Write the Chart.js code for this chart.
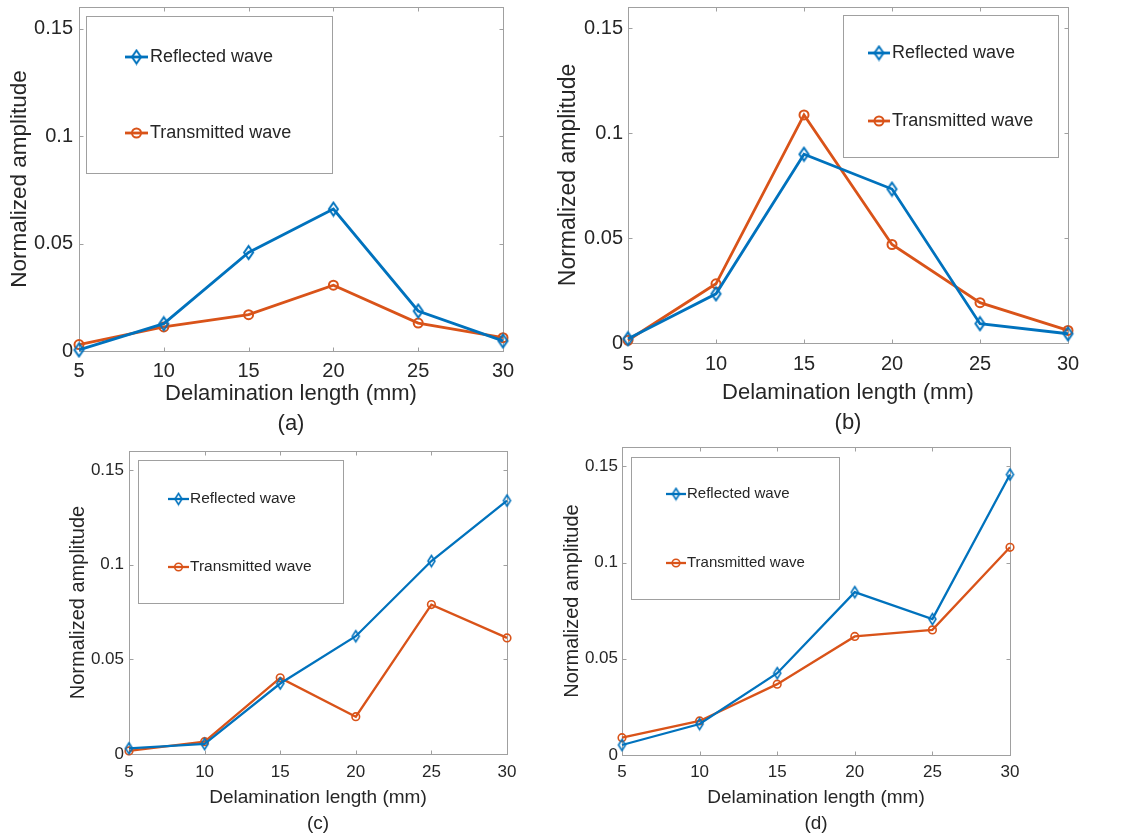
<!DOCTYPE html>
<html>
<head>
<meta charset="utf-8">
<script src="https://cdn.jsdelivr.net/npm/chart.js@4.4.1/dist/chart.umd.min.js"></script>
<style>
  body { margin: 0; background: #fff; }
  #wrap { position: relative; width: 1138px; height: 837px; }
  #wrap canvas { position: absolute; left: 0; top: 0; }
</style>
</head>
<body>
<div id="wrap">
  <canvas id="chartA" width="1138" height="837"></canvas>
  <canvas id="chartB" width="1138" height="837"></canvas>
  <canvas id="chartC" width="1138" height="837"></canvas>
  <canvas id="chartD" width="1138" height="837"></canvas>
</div>
<script>
// delamination lengths (mm) and axis ticks
const lengths = [5, 10, 15, 20, 25, 30];
const yTicks = [0, 0.05, 0.1, 0.15];
const seriesNames = ['Reflected wave', 'Transmitted wave'];
const xTitle = 'Delamination length (mm)';
const yTitle = 'Normalized amplitude';

// normalized amplitudes per case
const reflectedA = [0.0005, 0.0127, 0.0458, 0.0660, 0.0186, 0.0047];
const transmittedA = [0.0030, 0.0112, 0.0169, 0.0306, 0.0130, 0.0062];

const reflectedB = [0.0020, 0.0234, 0.0899, 0.0733, 0.0092, 0.0044];
const transmittedB = [0.0013, 0.0282, 0.1086, 0.0469, 0.0192, 0.0060];

const reflectedC = [0.0030, 0.0053, 0.0372, 0.0622, 0.1019, 0.1338];
const transmittedC = [0.0016, 0.0065, 0.0402, 0.0197, 0.0789, 0.0613];

const reflectedD = [0.0052, 0.0161, 0.0425, 0.0846, 0.0706, 0.1457];
const transmittedD = [0.0090, 0.0177, 0.0368, 0.0616, 0.0650, 0.1079];

const BLUE = '#0072BD';
const ORANGE = '#D95319';
const INK = '#262626';
const FRAME = '#a0a0a0';
const FAMILY = "'Liberation Sans', Arial, Helvetica, sans-serif";

// hollow, slightly tall diamond like the MATLAB 'd' marker
function diamond(w, h, color, lw) {
  const c = document.createElement('canvas');
  c.width = Math.ceil(w + lw * 2);
  c.height = Math.ceil(h + lw * 2);
  const g = c.getContext('2d');
  const cx = c.width / 2, cy = c.height / 2;
  g.strokeStyle = color;
  g.lineWidth = lw;
  g.beginPath();
  g.moveTo(cx, cy - h / 2);
  g.lineTo(cx + w / 2, cy);
  g.lineTo(cx, cy + h / 2);
  g.lineTo(cx - w / 2, cy);
  g.closePath();
  g.stroke();
  return c;
}

// axes box with inward tick marks on all four sides
const axesFrame = {
  id: 'axesFrame',
  beforeDatasetsDraw(chart) {
    const { ctx, chartArea: a, scales: { x, y } } = chart;
    const L = Math.round(a.left) + 0.5, R = Math.round(a.right) + 0.5;
    const T = Math.round(a.top) + 0.5, B = Math.round(a.bottom) + 0.5;
    ctx.save();
    ctx.strokeStyle = FRAME;
    ctx.lineWidth = 1;
    ctx.strokeRect(L, T, R - L, B - T);
    ctx.beginPath();
    x.ticks.forEach(t => {
      const px = Math.round(x.getPixelForValue(t.value)) + 0.5;
      ctx.moveTo(px, B); ctx.lineTo(px, B - 4);
      ctx.moveTo(px, T); ctx.lineTo(px, T + 4);
    });
    y.ticks.forEach(t => {
      const py = Math.round(y.getPixelForValue(t.value)) + 0.5;
      ctx.moveTo(L, py); ctx.lineTo(L + 4, py);
      ctx.moveTo(R, py); ctx.lineTo(R - 4, py);
    });
    ctx.stroke();
    ctx.restore();
  }
};

// boxed legend sitting inside the axes
const boxLegend = {
  id: 'boxLegend',
  afterDraw(chart, args, o) {
    const ctx = chart.ctx;
    ctx.save();
    ctx.fillStyle = '#fff';
    ctx.fillRect(o.x, o.y, o.w, o.h);
    ctx.strokeStyle = FRAME;
    ctx.lineWidth = 1;
    ctx.strokeRect(o.x + 0.5, o.y + 0.5, o.w, o.h);
    chart.data.datasets.forEach((ds, i) => {
      const y = o.rows[i];
      ctx.strokeStyle = ds.borderColor;
      ctx.lineWidth = ds.borderWidth;
      ctx.beginPath();
      ctx.moveTo(o.lineX0, y);
      ctx.lineTo(o.lineX1, y);
      ctx.stroke();
      ctx.fillStyle = 'rgba(0,0,0,0)';
      ctx.lineWidth = ds.pointBorderWidth;
      Chart.helpers.drawPoint(ctx, {
        pointStyle: ds.pointStyle, radius: ds.pointRadius,
        borderWidth: ds.pointBorderWidth, rotation: 0
      }, (o.lineX0 + o.lineX1) / 2, y);
      ctx.fillStyle = INK;
      ctx.font = o.fontSize + 'px ' + FAMILY;
      ctx.textBaseline = 'middle';
      ctx.textAlign = 'left';
      ctx.fillText(ds.label, o.textX, y);
    });
    ctx.restore();
  }
};

function makePanel(id, reflected, transmitted, p) {
  const yw = p.area.left - p.yTitleX + p.label * 0.6;
  const xh = p.xBottom - p.area.bottom;
  const toPts = vals => vals.map((v, i) => ({ x: lengths[i], y: v }));

  new Chart(document.getElementById(id), {
    type: 'line',
    data: {
      datasets: [{
        label: seriesNames[0],
        data: toPts(reflected),
        borderColor: BLUE,
        borderWidth: p.lw,
        pointStyle: diamond(p.dw, p.dh, BLUE, p.mw),
        pointRadius: p.r,
        pointBorderWidth: p.mw,
        pointBorderColor: BLUE,
        pointBackgroundColor: 'rgba(0,0,0,0)',
        tension: 0,
        clip: false
      }, {
        label: seriesNames[1],
        data: toPts(transmitted),
        borderColor: ORANGE,
        borderWidth: p.lw,
        pointStyle: 'circle',
        pointRadius: p.r,
        pointBorderWidth: p.mw,
        pointBorderColor: ORANGE,
        pointBackgroundColor: 'rgba(0,0,0,0)',
        tension: 0,
        clip: false
      }]
    },
    options: {
      responsive: false,
      animation: false,
      events: [],
      layout: {
        padding: {
          left: p.area.left - yw,
          top: p.area.top,
          right: 1138 - p.area.right,
          bottom: 837 - p.xBottom
        }
      },
      plugins: {
        legend: { display: false },
        tooltip: { enabled: false },
        boxLegend: p.legend
      },
      scales: {
        x: {
          type: 'linear',
          min: 5,
          max: 30,
          afterBuildTicks: s => { s.ticks = lengths.map(v => ({ value: v })); },
          afterFit: s => {
            s.height = xh;
            s.paddingLeft = 0;
            s.paddingRight = 0;
          },
          grid: { display: false, drawTicks: false },
          border: { display: false },
          ticks: {
            padding: p.xPad,
            color: INK,
            font: { family: FAMILY, size: p.tick },
            callback: v => String(v)
          },
          title: {
            display: true,
            text: [xTitle, p.caption],
            color: INK,
            padding: 0,
            font: { family: FAMILY, size: p.label, lineHeight: 1.36 }
          }
        },
        y: {
          type: 'linear',
          min: 0,
          max: 0.16,
          afterBuildTicks: s => { s.ticks = yTicks.map(v => ({ value: v })); },
          afterFit: s => {
            s.width = yw;
            s.paddingTop = 0;
            s.paddingBottom = 0;
          },
          grid: { display: false, drawTicks: false },
          border: { display: false },
          ticks: {
            padding: p.yPad,
            color: INK,
            font: { family: FAMILY, size: p.tick },
            callback: v => String(v)
          },
          title: {
            display: true,
            text: yTitle,
            color: INK,
            padding: 0,
            font: { family: FAMILY, size: p.yLabel, lineHeight: 1.2 }
          }
        }
      }
    },
    plugins: [axesFrame, boxLegend]
  });
}

makePanel('chartA', reflectedA, transmittedA, {
  area: { left: 79, right: 503, top: 7, bottom: 351 },
  yTitleX: 19, xBottom: 439, caption: '(a)',
  tick: 20, label: 22, yLabel: 22.5, xPad: 8, yPad: 6,
  lw: 2.8, mw: 2, r: 4.5, dw: 9, dh: 13,
  legend: { x: 86, y: 16, w: 246, h: 157, rows: [57, 133], lineX0: 125, lineX1: 148, textX: 150, fontSize: 18 }
});

makePanel('chartB', reflectedB, transmittedB, {
  area: { left: 628, right: 1068, top: 7, bottom: 343 },
  yTitleX: 568, xBottom: 438, caption: '(b)',
  tick: 20, label: 22, yLabel: 23, xPad: 9, yPad: 5,
  lw: 2.8, mw: 2, r: 4.5, dw: 9, dh: 13,
  legend: { x: 843, y: 15, w: 215, h: 142, rows: [53, 121], lineX0: 868, lineX1: 890, textX: 892, fontSize: 18 }
});

makePanel('chartC', reflectedC, transmittedC, {
  area: { left: 129, right: 507, top: 451, bottom: 754 },
  yTitleX: 78, xBottom: 837, caption: '(c)',
  tick: 17, label: 19, yLabel: 20, xPad: 8, yPad: 5,
  lw: 2.3, mw: 1.6, r: 3.8, dw: 7, dh: 11,
  legend: { x: 138, y: 460, w: 205, h: 143, rows: [499, 567], lineX0: 168, lineX1: 189, textX: 190, fontSize: 15.5 }
});

makePanel('chartD', reflectedD, transmittedD, {
  area: { left: 622, right: 1010, top: 447, bottom: 755 },
  yTitleX: 572, xBottom: 837, caption: '(d)',
  tick: 17, label: 19, yLabel: 20, xPad: 7, yPad: 4,
  lw: 2.3, mw: 1.6, r: 3.8, dw: 7, dh: 11,
  legend: { x: 631, y: 457, w: 208, h: 142, rows: [494, 563], lineX0: 666, lineX1: 686, textX: 687, fontSize: 15 }
});
</script>
</body>
</html>
